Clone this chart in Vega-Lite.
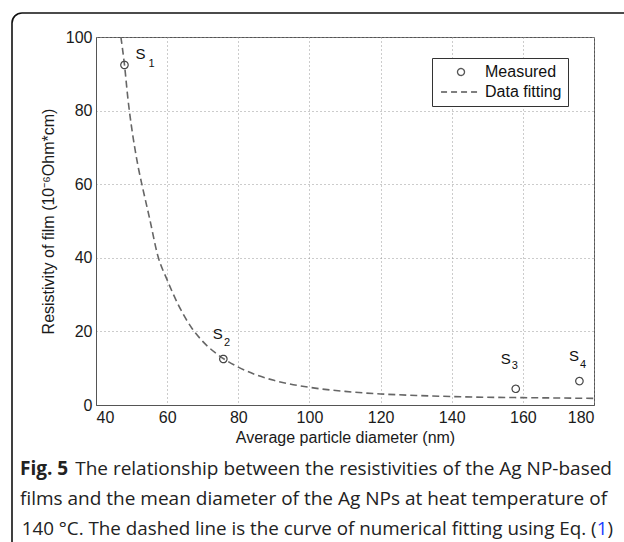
{
  "$schema": "https://vega.github.io/schema/vega-lite/v6.json",
  "width": 498,
  "height": 368,
  "autosize": {"type": "none"},
  "padding": {"left": 96, "top": 37, "right": 30, "bottom": 137},
  "background": "white",
  "config": {
    "view": {"stroke": "#555", "strokeWidth": 1},
    "axis": {
      "labelFont": "Liberation Sans",
      "titleFont": "Liberation Sans",
      "labelFontSize": 16,
      "titleFontSize": 16,
      "labelColor": "#1a1a1a",
      "titleColor": "#1a1a1a",
      "titleFontWeight": "normal",
      "domainColor": "#555",
      "gridColor": "#999",
      "gridDash": [1, 3],
      "ticks": false,
      "labelPadding": 4
    }
  },
  "datasets": {
    "curve": [
      {"d": 47, "rho": 100}, {"d": 48, "rho": 92.5}, {"d": 49, "rho": 83}, {"d": 50, "rho": 75.5},
      {"d": 51, "rho": 69.3}, {"d": 52, "rho": 64}, {"d": 53, "rho": 59.5}, {"d": 55, "rho": 51},
      {"d": 57.4, "rho": 40.5}, {"d": 60, "rho": 34}, {"d": 63, "rho": 27.5}, {"d": 67, "rho": 20.8},
      {"d": 70, "rho": 17.3}, {"d": 76, "rho": 12.5}, {"d": 80, "rho": 10.3}, {"d": 85, "rho": 8.2},
      {"d": 90, "rho": 6.7}, {"d": 100, "rho": 4.8}, {"d": 110, "rho": 3.7}, {"d": 120, "rho": 3.0},
      {"d": 130, "rho": 2.6}, {"d": 140, "rho": 2.3}, {"d": 150, "rho": 2.1}, {"d": 160, "rho": 2.0},
      {"d": 170, "rho": 1.9}, {"d": 180, "rho": 1.8}
    ],
    "points": [
      {"name": "S1", "sub": "1", "d": 48, "rho": 92.4, "series": "Measured"},
      {"name": "S2", "sub": "2", "d": 75.8, "rho": 12.5, "series": "Measured"},
      {"name": "S3", "sub": "3", "d": 158, "rho": 4.4, "series": "Measured"},
      {"name": "S4", "sub": "4", "d": 175.9, "rho": 6.5, "series": "Measured"}
    ]
  },
  "layer": [
    {
      "data": {"values": [{}]},
      "mark": {"type": "rect", "fill": null, "fillOpacity": 0, "stroke": "#111", "strokeWidth": 1.6, "cornerRadius": 10},
      "encoding": {
        "x": {"value": -84},
        "x2": {"value": 560},
        "y": {"value": -24},
        "y2": {"value": 530}
      }
    },
    {
      "data": {"name": "curve"},
      "mark": {"type": "line", "color": "#666", "strokeWidth": 1.6, "strokeDash": [7, 4], "interpolate": "monotone", "clip": true},
      "encoding": {
        "x": {
          "field": "d", "type": "quantitative",
          "scale": {"domain": [40, 180], "nice": false, "zero": false},
          "axis": {"values": [40, 60, 80, 100, 120, 140, 160, 180], "title": "Average particle diameter (nm)", "titlePadding": 4, "grid": true}
        },
        "y": {
          "field": "rho", "type": "quantitative",
          "scale": {"domain": [0, 100], "nice": false},
          "axis": {"values": [0, 20, 40, 60, 80, 100], "title": "Resistivity of film (10⁻⁶Ohm*cm)", "titlePadding": 9, "grid": true}
        }
      }
    },
    {
      "data": {"name": "points"},
      "mark": {"type": "point", "filled": false, "size": 55, "strokeWidth": 1.2, "color": "#444", "opacity": 1},
      "encoding": {
        "x": {"field": "d", "type": "quantitative"},
        "y": {"field": "rho", "type": "quantitative"},
        "shape": {
          "field": "series", "type": "nominal",
          "scale": {"domain": ["Measured", "Data fitting"], "range": ["circle", "M-5.7,0H5.7"]},
          "legend": {
            "title": null,
            "orient": "none",
            "legendX": 336,
            "legendY": 21,
            "padding": 6,
            "strokeColor": "#333",
            "fillColor": "white",
            "symbolSize": 49,
            "symbolOffset": 15,
            "symbolStrokeColor": "#555",
            "symbolStrokeWidth": 1.3,
            "labelFont": "Liberation Sans",
            "labelFontSize": 16,
            "labelColor": "#111",
            "labelOffset": 16,
            "rowPadding": 4,
            "labelExpr": "datum.label + '\u00a0\u00a0\u00a0\u00a0\u00a0\u00a0'"
          }
        },
        "strokeDash": {
          "field": "series", "type": "nominal",
          "scale": {"domain": ["Measured", "Data fitting"], "range": [[1, 0], [6, 4]]},
          "legend": {
            "title": null,
            "orient": "none",
            "legendX": 336,
            "legendY": 21
          }
        }
      }
    },
    {
      "data": {"name": "points"},
      "transform": [{"filter": "datum.name === 'S1'"}],
      "mark": {"type": "text", "font": "Liberation Sans", "fontSize": 15, "color": "#111", "dx": 16, "dy": -11, "baseline": "middle", "align": "center"},
      "encoding": {"x": {"field": "d", "type": "quantitative"}, "y": {"field": "rho", "type": "quantitative"}, "text": {"value": "S"}}
    },
    {
      "data": {"name": "points"},
      "transform": [{"filter": "datum.name === 'S1'"}],
      "mark": {"type": "text", "font": "Liberation Sans", "fontSize": 11, "color": "#111", "dx": 27, "dy": -1, "baseline": "middle", "align": "center"},
      "encoding": {"x": {"field": "d", "type": "quantitative"}, "y": {"field": "rho", "type": "quantitative"}, "text": {"field": "sub"}}
    },
    {
      "data": {"name": "points"},
      "transform": [{"filter": "datum.name === 'S2' || datum.name === 'S4'"}],
      "mark": {"type": "text", "font": "Liberation Sans", "fontSize": 15, "color": "#111", "dx": -5.5, "dy": -25, "baseline": "middle", "align": "center"},
      "encoding": {"x": {"field": "d", "type": "quantitative"}, "y": {"field": "rho", "type": "quantitative"}, "text": {"value": "S"}}
    },
    {
      "data": {"name": "points"},
      "transform": [{"filter": "datum.name === 'S2' || datum.name === 'S4'"}],
      "mark": {"type": "text", "font": "Liberation Sans", "fontSize": 11, "color": "#111", "dx": 3.7, "dy": -16, "baseline": "middle", "align": "center"},
      "encoding": {"x": {"field": "d", "type": "quantitative"}, "y": {"field": "rho", "type": "quantitative"}, "text": {"field": "sub"}}
    },
    {
      "data": {"name": "points"},
      "transform": [{"filter": "datum.name === 'S3'"}],
      "mark": {"type": "text", "font": "Liberation Sans", "fontSize": 15, "color": "#111", "dx": -10, "dy": -30, "baseline": "middle", "align": "center"},
      "encoding": {"x": {"field": "d", "type": "quantitative"}, "y": {"field": "rho", "type": "quantitative"}, "text": {"value": "S"}}
    },
    {
      "data": {"name": "points"},
      "transform": [{"filter": "datum.name === 'S3'"}],
      "mark": {"type": "text", "font": "Liberation Sans", "fontSize": 11, "color": "#111", "dx": -1, "dy": -22.5, "baseline": "middle", "align": "center"},
      "encoding": {"x": {"field": "d", "type": "quantitative"}, "y": {"field": "rho", "type": "quantitative"}, "text": {"field": "sub"}}
    },
    {
      "data": {"values": [{"t": "Fig. 5"}]},
      "mark": {"type": "text", "font": "Open Sans", "fontSize": 19, "fontWeight": "bold", "color": "#222", "align": "left", "baseline": "alphabetic"},
      "encoding": {"x": {"value": -76}, "y": {"value": 438}, "text": {"field": "t"}}
    },
    {
      "data": {"values": [{"t": "The relationship between the resistivities of the Ag NP-based"}]},
      "mark": {"type": "text", "font": "Open Sans", "fontSize": 19, "color": "#222", "align": "right", "baseline": "alphabetic"},
      "encoding": {"x": {"value": 516}, "y": {"value": 438}, "text": {"field": "t"}}
    },
    {
      "data": {"values": [{"t": "films and the mean diameter of the Ag NPs at heat temperature of"}]},
      "mark": {"type": "text", "font": "Open Sans", "fontSize": 19, "color": "#222", "align": "left", "baseline": "alphabetic"},
      "encoding": {"x": {"value": -76}, "y": {"value": 468}, "text": {"field": "t"}}
    },
    {
      "data": {"values": [{"t": "140 °C. The dashed line is the curve of numerical fitting using Eq. ("}]},
      "mark": {"type": "text", "font": "Open Sans", "fontSize": 18.8, "color": "#222", "align": "right", "baseline": "alphabetic"},
      "encoding": {"x": {"value": 500.5}, "y": {"value": 498}, "text": {"field": "t"}}
    },
    {
      "data": {"values": [{"t": "1"}]},
      "mark": {"type": "text", "font": "Open Sans", "fontSize": 18.8, "color": "#1a3cff", "align": "right", "baseline": "alphabetic"},
      "encoding": {"x": {"value": 511.5}, "y": {"value": 498}, "text": {"field": "t"}}
    },
    {
      "data": {"values": [{"t": ")"}]},
      "mark": {"type": "text", "font": "Open Sans", "fontSize": 18.8, "color": "#222", "align": "right", "baseline": "alphabetic"},
      "encoding": {"x": {"value": 517}, "y": {"value": 498}, "text": {"field": "t"}}
    }
  ]
}
